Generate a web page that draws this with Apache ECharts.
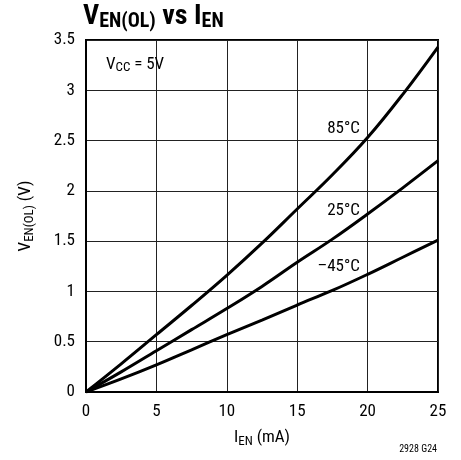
<!DOCTYPE html>
<html><head><meta charset="utf-8">
<script src="https://cdn.jsdelivr.net/npm/echarts@6/dist/echarts.min.js"></script>
<style>html,body{margin:0;padding:0;background:#fff}#c{width:461px;height:460px}</style>
</head><body><div id="c"></div>
<script>
const currents = [0, 2.5, 5, 7.5, 10, 12.5, 15, 17.5, 20, 22.5, 25];
const v85 = [0, 0.28, 0.57, 0.86, 1.16, 1.48, 1.82, 2.16, 2.53, 2.96, 3.43];
const v25 = [0, 0.2, 0.41, 0.62, 0.83, 1.05, 1.29, 1.52, 1.77, 2.03, 2.3];
const vm45 = [0, 0.13, 0.27, 0.42, 0.57, 0.715, 0.865, 1.01, 1.17, 1.34, 1.51];
const xTicks = [0, 5, 10, 15, 20, 25];
const yTicks = [0, 0.5, 1, 1.5, 2, 2.5, 3, 3.5];

const FONT = '"Roboto Condensed","DejaVu Sans Condensed",sans-serif';
const chart = echarts.init(document.getElementById('c'));
const pairs = a => currents.map((x, i) => [x, a[i]]);
const lineSeries = (name, arr) => ({
  name, type: 'line', data: pairs(arr), smooth: 0.4, showSymbol: false,
  lineStyle: { color: '#000', width: 3 }, z: 5
});
const subRich = (big, small, weight) => ({
  v: { fontFamily: FONT, fontSize: big, fontWeight: weight, color: '#000' },
  s: { fontFamily: FONT, fontSize: small, fontWeight: weight, color: '#000', verticalAlign: 'bottom', padding: [Math.round(big * 0.4), 0, 0, 0] }
});
chart.setOption({
  animation: false,
  textStyle: { fontFamily: FONT, color: '#000' },
  title: {
    text: '{v|V}{s|EN(OL)}{v| vs I}{s|EN}',
    left: 83, top: 1, padding: 0,
    textStyle: { rich: subRich(28, 20, 'bold') }
  },
  grid: { left: 86, right: 23, top: 40, bottom: 68, show: true, borderColor: '#000', borderWidth: 2, backgroundColor: 'transparent' },
  xAxis: {
    type: 'value', min: xTicks[0], max: xTicks[xTicks.length - 1], interval: 5,
    axisLine: { show: true, lineStyle: { color: '#000', width: 2 } },
    axisTick: { show: false },
    splitLine: { show: true, lineStyle: { color: '#222', width: 1 } },
    axisLabel: { fontFamily: FONT, fontSize: 17, color: '#000', margin: 11 },
    name: '{v|I}{s|EN}{v| (mA)}', nameLocation: 'middle', nameGap: 36,
    nameTextStyle: { rich: subRich(17, 13, 'normal') }
  },
  yAxis: {
    type: 'value', min: yTicks[0], max: yTicks[yTicks.length - 1], interval: 0.5,
    axisLine: { show: true, lineStyle: { color: '#000', width: 2 } },
    axisTick: { show: false },
    splitLine: { show: true, lineStyle: { color: '#222', width: 1 } },
    axisLabel: { fontFamily: FONT, fontSize: 17, color: '#000', margin: 11 },
    name: '{v|V}{s|EN(OL)}{v| (V)}', nameLocation: 'middle', nameGap: 50, nameRotate: 90,
    nameTextStyle: { rich: subRich(17, 13, 'normal') }
  },
  series: [
    lineSeries('85°C', v85),
    lineSeries('25°C', v25),
    lineSeries('−45°C', vm45)
  ],
  graphic: [
    { type: 'text', left: 106, top: 56, z: 10, style: { text: '{v|V}{s|CC}{v| = 5V}', rich: {
      v: { fontFamily: FONT, fontSize: 17, fill: '#000' },
      s: { fontFamily: FONT, fontSize: 13, fill: '#000', verticalAlign: 'bottom', padding: [7, 0, 0, 0] } } } },
    { type: 'text', right: 101, top: 120, z: 10, style: { text: '85°C', fontFamily: FONT, fontSize: 17, fill: '#000' } },
    { type: 'text', right: 101, top: 202, z: 10, style: { text: '25°C', fontFamily: FONT, fontSize: 17, fill: '#000' } },
    { type: 'text', right: 101, top: 258, z: 10, style: { text: '–45°C', fontFamily: FONT, fontSize: 17, fill: '#000' } },
    { type: 'text', right: 24, top: 444, z: 10, style: { text: '2928 G24', fontFamily: FONT, fontSize: 10, fill: '#000' } }
  ]
});
</script></body></html>
